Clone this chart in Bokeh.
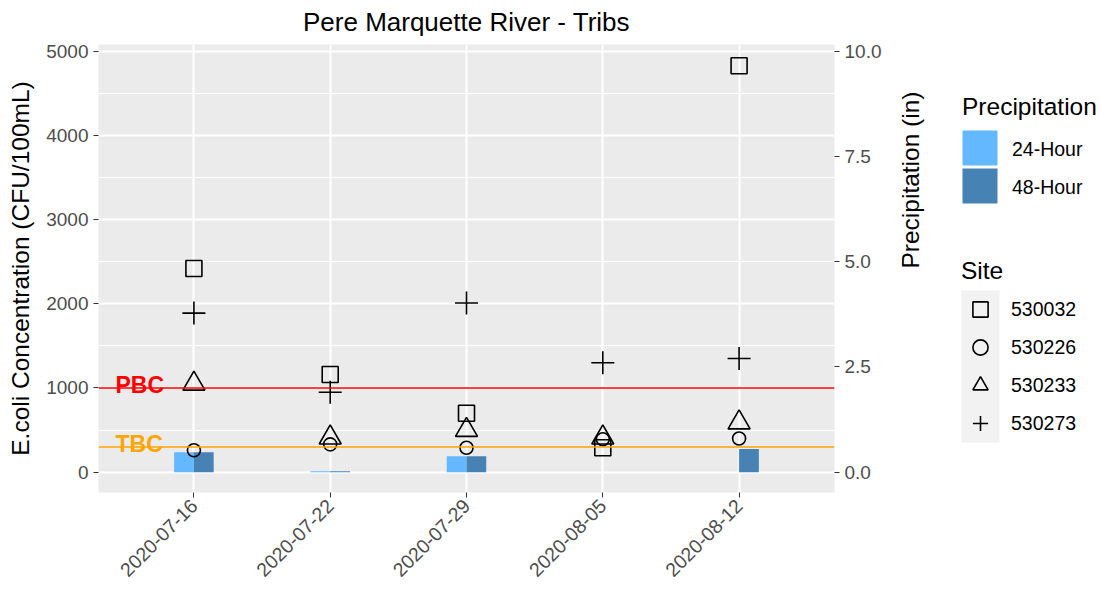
import math
from bokeh.plotting import figure
from bokeh.layouts import row
from bokeh.models import (FactorRange, Range1d, LinearAxis, FixedTicker, Span, Label,
                          Legend, LegendItem, BoxAnnotation, ColumnDataSource,
                          NumeralTickFormatter)
from bokeh.transform import dodge
from bokeh.embed import file_html
from bokeh.resources import INLINE

# ---------------- data ----------------
dates = ["2020-07-16", "2020-07-22", "2020-07-29", "2020-08-05", "2020-08-12"]
site_530032 = [2420, 1160, 700, 290, 4830]
site_530226 = [260, 330, 290, 390, 400]
site_530233 = [1050, 410, 500, 410, 590]
site_530273 = [1890, 950, 2010, 1300, 1350]
precip_24h = [0.47, 0.02, 0.38, 0.0, 0.0]
precip_48h = [0.47, 0.02, 0.38, 0.0, 0.55]
site_names = ["530032", "530226", "530233", "530273"]
precip_names = ["24-Hour", "48-Hour"]
precip_colors = ["#63B8FF", "#4682B4"]
PBC = 1000
TBC = 300
left_ticks = [0, 1000, 2000, 3000, 4000, 5000]
left_minor = [500, 1500, 2500, 3500, 4500]
right_ticks = [0, 2.5, 5.0, 7.5, 10.0]
SCALE = 500.0  # 10 in <-> 5000 CFU

FONT = "Liberation Sans"
Y0, Y1 = -242, 5082
H = 597

p = figure(width=940, height=H,
           x_range=FactorRange(*dates, range_padding=0.2, range_padding_units="absolute"),
           y_range=Range1d(Y0, Y1),
           output_backend="svg", toolbar_location=None,
           min_border_left=98, min_border_right=98, min_border_top=44, min_border_bottom=105,
           background_fill_color="#EBEBEB", border_fill_color="white",
           outline_line_color=None,
           title="Pere Marquette River - Tribs")
p.title.text_font = FONT
p.title.text_font_size = "26px"
p.title.text_font_style = "normal"
p.title.text_color = "black"
p.title.align = "center"
p.title.vertical_align = "top"
p.title.standoff = 12

p.extra_y_ranges = {"precip": Range1d(Y0 / SCALE, Y1 / SCALE)}

# grids
p.xgrid.grid_line_color = "white"
p.xgrid.grid_line_width = 2
p.ygrid.grid_line_color = "white"
p.ygrid.grid_line_width = 2
p.ygrid.minor_grid_line_color = "white"
p.ygrid.minor_grid_line_width = 1

# left axis
p.yaxis.ticker = FixedTicker(ticks=left_ticks, minor_ticks=left_minor)
p.yaxis.formatter = NumeralTickFormatter(format="0")
p.yaxis.axis_label = "E.coli Concentration (CFU/100mL)"

ax2 = LinearAxis(y_range_name="precip", ticker=FixedTicker(ticks=right_ticks),
                 formatter=NumeralTickFormatter(format="0.0"),
                 axis_label="Precipitation (in)")
p.add_layout(ax2, "right")
ax2.axis_label_orientation = math.pi / 2

for ax in [p.xaxis[0], p.yaxis[0], ax2]:
    ax.axis_line_color = None
    ax.major_tick_line_color = "#333333"
    ax.major_tick_out = 5
    ax.major_tick_in = 0
    ax.minor_tick_line_color = None
    ax.major_label_text_color = "#4D4D4D"
    ax.major_label_text_font = FONT
    ax.major_label_text_font_size = "19px"
    ax.major_label_standoff = 5
    ax.axis_label_text_font = FONT
    ax.axis_label_text_font_size = "24.5px"
    ax.axis_label_text_font_style = "normal"
    ax.axis_label_text_color = "black"
p.yaxis.axis_label_standoff = 9
ax2.axis_label_standoff = 26
p.xaxis.major_label_orientation = math.pi / 4
p.xaxis.major_label_text_font_size = "19.5px"

# bars
bsrc = ColumnDataSource(dict(date=dates, h24=precip_24h, h48=precip_48h))
bw = 0.145
p.vbar(x=dodge("date", -bw / 2, range=p.x_range), top="h24", bottom=0, width=bw,
       source=bsrc, y_range_name="precip", fill_color=precip_colors[0], line_color=None)
p.vbar(x=dodge("date", bw / 2, range=p.x_range), top="h48", bottom=0, width=bw,
       source=bsrc, y_range_name="precip", fill_color=precip_colors[1], line_color=None)

# reference lines
p.add_layout(Span(location=PBC, dimension="width", line_color="red", line_width=1.5))
p.add_layout(Span(location=TBC, dimension="width", line_color="orange", line_width=1.5))
p.add_layout(Label(x=17, y=PBC, x_units="screen", y_units="data", text="PBC",
                   text_color="red", text_font=FONT, text_font_style="bold",
                   text_font_size="23px", text_baseline="alphabetic", y_offset=3))
p.add_layout(Label(x=17, y=TBC, x_units="screen", y_units="data", text="TBC",
                   text_color="orange", text_font=FONT, text_font_style="bold",
                   text_font_size="23px", text_baseline="alphabetic", y_offset=3))

# points
markers = ["square", "circle", "triangle", "cross"]
msizes = [16, 13, 22, 23]
cols = ["s1", "s2", "s3", "s4"]
psrc = ColumnDataSource(dict(date=dates, s1=site_530032, s2=site_530226,
                             s3=site_530233, s4=site_530273))
for col, mk, sz in zip(cols, markers, msizes):
    p.scatter(x="date", y=col, source=psrc, marker=mk, size=sz,
              fill_color=None, line_color="black", line_width=1.6)

# ---------------- legend panel (separate figure to the right) ----------------
# Same data kept out of view (range below all values), so legend entries have glyphs.
lf = figure(width=160, height=H, x_range=FactorRange(*dates), y_range=Range1d(-20000, -10000),
            output_backend="svg", toolbar_location=None,
            x_axis_type=None, y_axis_type=None,
            min_border_left=0, min_border_right=0, min_border_top=44, min_border_bottom=105,
            background_fill_color="white", border_fill_color="white",
            outline_line_color=None)
lf.xgrid.visible = False
lf.ygrid.visible = False

def style_legend(lg):
    lg.padding = 0
    lg.margin = 0
    lg.border_line_color = None
    lg.background_fill_alpha = 0
    lg.title_text_font = FONT
    lg.title_text_font_size = "24.5px"
    lg.title_text_font_style = "normal"
    lg.title_text_color = "black"
    lg.label_text_font = FONT
    lg.label_text_font_size = "19.5px"
    lg.label_text_color = "black"
    lg.glyph_width = 38
    lg.glyph_height = 38
    lg.label_height = 38
    lg.label_standoff = 12
    lg.spacing = 0

# key boxes for precipitation (full-size squares like ggplot keys); frame bottom = page y 492
for i, c in enumerate(precip_colors):
    lf.add_layout(BoxAnnotation(left=22, right=57, top=362 - 38 * i, bottom=327 - 38 * i,
                                left_units="screen", right_units="screen",
                                top_units="screen", bottom_units="screen",
                                fill_color=c, fill_alpha=1, line_color=None,
                                level="underlay"))
prs = [lf.vbar(x="date", top=f, bottom=0, width=0, source=bsrc, fill_color=c, line_color=None)
       for f, c in zip(["h24", "h48"], precip_colors)]
leg1 = Legend(items=[LegendItem(label=n, renderers=[r]) for n, r in zip(precip_names, prs)],
              title="Precipitation", location=(22, 286))
style_legend(leg1)
leg1.title_standoff = 9
lf.add_layout(leg1, "center")

# grey key column for site legend
lf.add_layout(BoxAnnotation(left=21, right=59, top=202, bottom=50,
                            left_units="screen", right_units="screen",
                            top_units="screen", bottom_units="screen",
                            fill_color="#F2F2F2", fill_alpha=1, line_color=None,
                            level="underlay"))
srs = [lf.scatter(x="date", y=col, source=psrc, marker=mk, size=0, fill_color=None,
                  line_color="black", line_width=1.6)
       for col, mk in zip(cols, markers)]
leg2 = Legend(items=[LegendItem(label=n, renderers=[r]) for n, r in zip(site_names, srs)],
              title="Site", location=(21, 50))
style_legend(leg2)
leg2.title_standoff = 5
lf.add_layout(leg2, "center")

layout = row(p, lf, spacing=0)
open("out.html", "w").write(file_html(layout, INLINE))
